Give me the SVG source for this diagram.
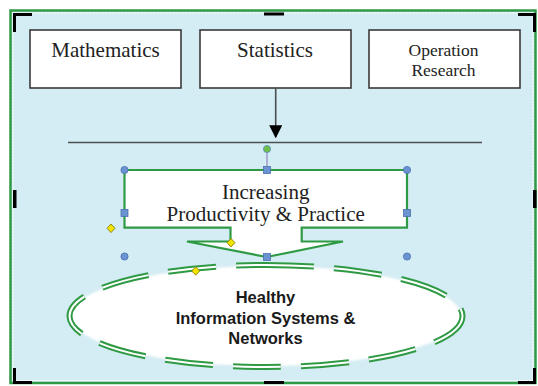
<svg xmlns="http://www.w3.org/2000/svg" width="538" height="386" viewBox="0 0 538 386">
  <style>
    .box { fill: #ffffff; stroke: #3a3a3a; stroke-width: 1.6; }
    .serif { font-family: "Liberation Serif", "DejaVu Serif", serif; fill: #222222; text-anchor: middle; }
    .sans { font-family: "Liberation Sans", "DejaVu Sans", sans-serif; font-weight: bold; fill: #1a1a1a; text-anchor: middle; }
    .crop { fill: #000000; }
    .green { stroke: #2f9a44; }
    .hc { fill: #6b93d1; stroke: #4a70b0; stroke-width: 0.8; }
    .dm { fill: #f2e400; stroke: #7d7300; stroke-width: 0.8; }
    .conn { stroke: #4a4f50; stroke-width: 1.6; fill: none; }
  </style>
  <defs>
    <filter id="soft" x="-10%" y="-20%" width="120%" height="140%">
      <feGaussianBlur stdDeviation="1.2"/>
    </filter>
    <marker id="arrowhead" viewBox="0 0 10 10" refX="9" refY="5" markerWidth="13" markerHeight="13" markerUnits="userSpaceOnUse" orient="auto">
      <path d="M0,0 L10,5 L0,10 Z" fill="#000000"/>
    </marker>
  </defs>

  <!-- canvas frame -->
  <g id="frame">
    <rect x="10.5" y="10.5" width="525" height="372.5" fill="#d4ecf3" stroke="#2f9a44" stroke-width="2.5"/>
    <rect x="13" y="13" width="520" height="367.5" fill="none" stroke="#ffffff" stroke-width="1" stroke-dasharray="2 1.2"/>
    <!-- corner and side crop marks -->
    <path class="crop" d="M13,13 H32 V16 H16 V32 H13 Z"/>
    <path class="crop" d="M536,13 H518 V16 H533 V32 H536 Z"/>
    <path class="crop" d="M13,384 H32 V381 H16 V368 H13 Z"/>
    <path class="crop" d="M536,384 H518 V381 H533 V368 H536 Z"/>
    <rect class="crop" x="264" y="12.5" width="20" height="3"/>
    <rect class="crop" x="264" y="381" width="20" height="3"/>
    <rect class="crop" x="13" y="190" width="3.5" height="18"/>
    <rect class="crop" x="533" y="190" width="3.5" height="18"/>
  </g>

  <!-- top row of disciplines -->
  <g id="box-mathematics">
    <rect class="box" x="30" y="30" width="151" height="58"/>
    <text class="serif" x="105.5" y="57" font-size="21">Mathematics</text>
  </g>
  <g id="box-statistics">
    <rect class="box" x="200" y="30" width="151" height="58"/>
    <text class="serif" x="275" y="57" font-size="21">Statistics</text>
  </g>
  <g id="box-operation-research">
    <rect class="box" x="369" y="30" width="151" height="58"/>
    <text class="serif" x="443.5" y="56" font-size="17.5">Operation</text>
    <text class="serif" x="443.5" y="76" font-size="17.5">Research</text>
  </g>

  <!-- connectors -->
  <g id="connectors">
    <line class="conn" x1="275.7" y1="88" x2="275.7" y2="137" marker-end="url(#arrowhead)"/>
    <line class="conn" x1="68" y1="142.5" x2="482" y2="142.5"/>
  </g>

  <!-- callout box with down-pointing wedge -->
  <g id="callout-productivity">
    <path d="M124.5,170 H407 V227.7 H301.7 V241.5 H343 L266.7,257 L187,241.5 H230.5 V227.7 H124.5 Z" fill="#ffffff" class="green" stroke-width="2.2" stroke-linejoin="miter"/>
    <text class="serif" x="265.7" y="199" font-size="21">Increasing</text>
    <text class="serif" x="265.7" y="221" font-size="21">Productivity &amp; Practice</text>
  </g>

  <!-- ellipse with double long-dash outline -->
  <g id="ellipse-health-systems">
    <ellipse cx="266" cy="316" rx="195" ry="50" fill="#ffffff" filter="url(#soft)"/>
    <path d="M266,265 A196.5,51 0 0 1 266,367 A196.5,51 0 0 1 266,265 Z" fill="none" class="green" stroke-width="6" stroke-dasharray="48 20"/>
    <path d="M266,265 A196.5,51 0 0 1 266,367 A196.5,51 0 0 1 266,265 Z" fill="none" stroke="#ffffff" stroke-width="2" stroke-dasharray="48 20"/>
    <text class="sans" x="265.5" y="303" font-size="16.5">Healthy</text>
    <text class="sans" x="265.5" y="324" font-size="16.5">Information Systems &amp;</text>
    <text class="sans" x="265.5" y="344" font-size="16.5">Networks</text>
  </g>

  <!-- selection handles of the callout -->
  <g id="selection-handles">
    <line x1="267" y1="152" x2="267" y2="167" stroke="#a09cc8" stroke-width="1.5"/>
    <circle cx="267" cy="149" r="3.6" fill="#6cbf4a" stroke="#5a8fc0" stroke-width="0.8"/>
    <circle class="hc" cx="124.5" cy="170" r="3.6"/>
    <circle class="hc" cx="407" cy="170" r="3.6"/>
    <circle class="hc" cx="124.5" cy="256.5" r="3.6"/>
    <circle class="hc" cx="407" cy="256.5" r="3.6"/>
    <rect class="hc" x="263.5" y="166.5" width="7" height="7"/>
    <rect class="hc" x="121" y="209.5" width="7" height="7"/>
    <rect class="hc" x="403.5" y="209.5" width="7" height="7"/>
    <rect class="hc" x="263.5" y="253.5" width="7" height="7"/>
    <path class="dm" d="M111,224 L115,228.3 L111,232.6 L107,228.3 Z"/>
    <path class="dm" d="M231,238.5 L235,242.7 L231,246.9 L227,242.7 Z"/>
    <path class="dm" d="M195.7,266.8 L199.7,271 L195.7,275.2 L191.7,271 Z"/>
  </g>
</svg>
